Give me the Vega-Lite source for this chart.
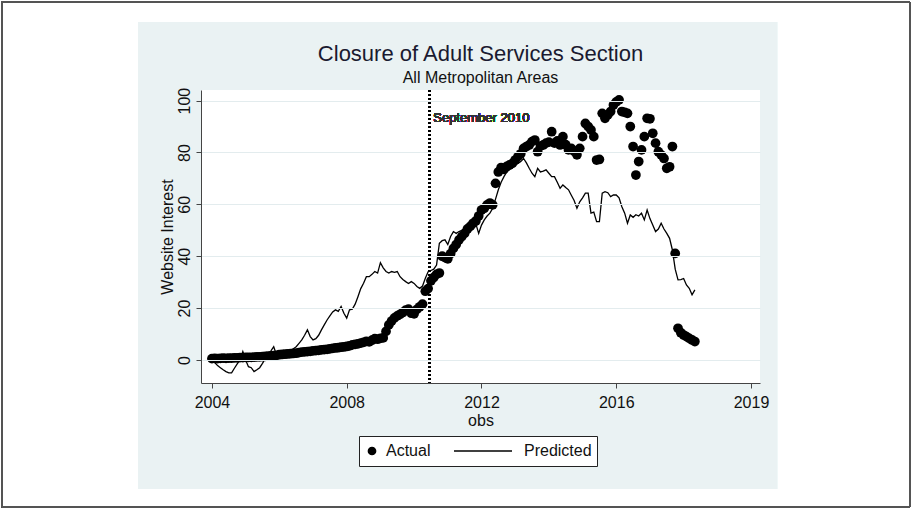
{
  "$schema": "https://vega.github.io/schema/vega-lite/v6.json",
  "width": 559,
  "height": 293,
  "autosize": {"type": "none"},
  "padding": {"left": 201, "top": 90, "right": 153, "bottom": 126},
  "background": "white",
  "title": {
    "text": "Closure of Adult Services Section",
    "subtitle": "All Metropolitan Areas",
    "anchor": "middle",
    "font": "Liberation Sans",
    "fontSize": 22,
    "fontWeight": "normal",
    "color": "#1a1a30",
    "subtitleFont": "Liberation Sans",
    "subtitleFontSize": 16,
    "subtitleColor": "#111111",
    "subtitlePadding": 4,
    "offset": -85
  },
  "data": {
    "values": [
      {"obs":0,"actual":0.5,"predicted":0.0},{"obs":1,"actual":0.6,"predicted":-1.0},{"obs":2,"actual":0.5,"predicted":-2.2},{"obs":3,"actual":0.6,"predicted":-3.0},{"obs":4,"actual":0.7,"predicted":-3.8},{"obs":5,"actual":0.6,"predicted":-4.5},{"obs":6,"actual":0.7,"predicted":-5.0},{"obs":7,"actual":0.7,"predicted":-5.0},{"obs":8,"actual":0.8,"predicted":-3.2},{"obs":9,"actual":0.8,"predicted":-1.5},
      {"obs":10,"actual":0.9,"predicted":0.0},{"obs":11,"actual":0.9,"predicted":3.2},{"obs":12,"actual":1.0,"predicted":0.0},{"obs":13,"actual":1.0,"predicted":-2.6},{"obs":14,"actual":1.0,"predicted":-3.0},{"obs":15,"actual":1.1,"predicted":-4.5},{"obs":16,"actual":1.2,"predicted":-3.8},{"obs":17,"actual":1.2,"predicted":-3.0},{"obs":18,"actual":1.3,"predicted":-1.3},{"obs":19,"actual":1.4,"predicted":0.5},
      {"obs":20,"actual":1.5,"predicted":2.0},{"obs":21,"actual":1.6,"predicted":3.5},{"obs":22,"actual":1.7,"predicted":5.1},{"obs":23,"actual":1.8,"predicted":1.9},{"obs":24,"actual":2.0,"predicted":1.9},{"obs":25,"actual":2.1,"predicted":2.0},{"obs":26,"actual":2.2,"predicted":2.2},{"obs":27,"actual":2.3,"predicted":2.6},{"obs":28,"actual":2.4,"predicted":3.5},{"obs":29,"actual":2.5,"predicted":4.3},
      {"obs":30,"actual":2.6,"predicted":5.1},{"obs":31,"actual":2.8,"predicted":6.4},{"obs":32,"actual":3.0,"predicted":7.7},{"obs":33,"actual":3.1,"predicted":9.5},{"obs":34,"actual":3.2,"predicted":11.6},{"obs":35,"actual":3.3,"predicted":9.0},{"obs":36,"actual":3.5,"predicted":7.7},{"obs":37,"actual":3.6,"predicted":8.2},{"obs":38,"actual":3.7,"predicted":9.5},{"obs":39,"actual":3.9,"predicted":11.6},
      {"obs":40,"actual":4.0,"predicted":13.5},{"obs":41,"actual":4.1,"predicted":15.4},{"obs":42,"actual":4.3,"predicted":17.0},{"obs":43,"actual":4.5,"predicted":18.5},{"obs":44,"actual":4.6,"predicted":19.3},{"obs":45,"actual":4.7,"predicted":18.7},{"obs":46,"actual":4.9,"predicted":20.6},{"obs":47,"actual":5.0,"predicted":18.0},{"obs":48,"actual":5.2,"predicted":16.1},{"obs":49,"actual":5.4,"predicted":19.3},
      {"obs":50,"actual":5.8,"predicted":19.6},{"obs":51,"actual":6.0,"predicted":21.5},{"obs":52,"actual":6.2,"predicted":24.4},{"obs":53,"actual":6.5,"predicted":27.5},{"obs":54,"actual":6.8,"predicted":29.6},{"obs":55,"actual":7.2,"predicted":32.1},{"obs":56,"actual":7.0,"predicted":32.1},{"obs":57,"actual":7.6,"predicted":33.0},{"obs":58,"actual":8.2,"predicted":34.1},{"obs":59,"actual":8.0,"predicted":33.5},
      {"obs":60,"actual":8.3,"predicted":37.5},{"obs":61,"actual":8.5,"predicted":35.5},{"obs":62,"actual":11.0,"predicted":34.1},{"obs":63,"actual":13.5,"predicted":33.5},{"obs":64,"actual":15.0,"predicted":34.1},{"obs":65,"actual":16.2,"predicted":33.8},{"obs":66,"actual":17.0,"predicted":34.1},{"obs":67,"actual":17.6,"predicted":32.1},{"obs":68,"actual":18.3,"predicted":31.0},{"obs":69,"actual":19.2,"predicted":30.2},
      {"obs":70,"actual":19.6,"predicted":29.5},{"obs":71,"actual":18.0,"predicted":30.2},{"obs":72,"actual":17.8,"predicted":29.5},{"obs":73,"actual":19.5,"predicted":28.3},{"obs":74,"actual":20.5,"predicted":27.6},{"obs":75,"actual":21.5,"predicted":28.5},{"obs":76,"actual":26.5,"predicted":31.5},{"obs":77,"actual":27.5,"predicted":34.0},{"obs":78,"actual":30.5,"predicted":34.5},{"obs":79,"actual":31.8,"predicted":35.0},
      {"obs":80,"actual":33.0,"predicted":36.6},{"obs":81,"actual":33.5,"predicted":45.0},{"obs":82,"actual":40.0,"predicted":46.0},{"obs":83,"actual":39.5,"predicted":46.3},{"obs":84,"actual":39.0,"predicted":44.5},{"obs":85,"actual":41.0,"predicted":47.6},{"obs":86,"actual":43.0,"predicted":49.5},{"obs":87,"actual":44.5,"predicted":48.8},{"obs":88,"actual":46.3,"predicted":49.5},{"obs":89,"actual":47.6,"predicted":50.0},
      {"obs":90,"actual":48.8,"predicted":50.8},{"obs":91,"actual":50.5,"predicted":51.5},{"obs":92,"actual":51.5,"predicted":52.0},{"obs":93,"actual":52.7,"predicted":53.3},{"obs":94,"actual":53.6,"predicted":52.5},{"obs":95,"actual":55.5,"predicted":48.8},{"obs":96,"actual":57.8,"predicted":52.0},{"obs":97,"actual":58.5,"predicted":54.0},{"obs":98,"actual":59.8,"predicted":55.5},{"obs":99,"actual":60.5,"predicted":56.6},
      {"obs":100,"actual":59.8,"predicted":58.5},{"obs":101,"actual":68.1,"predicted":62.0},{"obs":102,"actual":72.5,"predicted":65.6},{"obs":103,"actual":74.2,"predicted":68.5},{"obs":104,"actual":73.5,"predicted":70.7},{"obs":105,"actual":74.6,"predicted":72.5},{"obs":106,"actual":75.2,"predicted":73.5},{"obs":107,"actual":75.8,"predicted":74.5},{"obs":108,"actual":77.1,"predicted":75.2},{"obs":109,"actual":78.4,"predicted":75.8},
      {"obs":110,"actual":79.5,"predicted":76.5},{"obs":111,"actual":81.6,"predicted":77.7},{"obs":112,"actual":82.3,"predicted":76.0},{"obs":113,"actual":82.9,"predicted":73.9},{"obs":114,"actual":84.2,"predicted":72.0},{"obs":115,"actual":84.8,"predicted":70.7},{"obs":116,"actual":80.3,"predicted":73.9},{"obs":117,"actual":82.5,"predicted":72.5},{"obs":118,"actual":82.9,"predicted":72.8},{"obs":119,"actual":83.6,"predicted":73.3},
      {"obs":120,"actual":84.0,"predicted":72.0},{"obs":121,"actual":88.0,"predicted":70.7},{"obs":122,"actual":83.6,"predicted":70.7},{"obs":123,"actual":84.5,"predicted":68.5},{"obs":124,"actual":82.9,"predicted":66.2},{"obs":125,"actual":86.1,"predicted":67.5},{"obs":126,"actual":83.0,"predicted":66.5},{"obs":127,"actual":81.0,"predicted":65.6},{"obs":128,"actual":81.6,"predicted":63.5},{"obs":129,"actual":80.5,"predicted":61.5},
      {"obs":130,"actual":79.1,"predicted":58.5},{"obs":131,"actual":81.6,"predicted":61.0},{"obs":132,"actual":86.1,"predicted":62.5},{"obs":133,"actual":91.2,"predicted":64.3},{"obs":134,"actual":90.0,"predicted":64.3},{"obs":135,"actual":88.7,"predicted":56.6},{"obs":136,"actual":86.1,"predicted":57.0},{"obs":137,"actual":77.1,"predicted":53.3},{"obs":138,"actual":77.3,"predicted":53.3},{"obs":139,"actual":95.1,"predicted":64.3},
      {"obs":140,"actual":93.2,"predicted":64.9},{"obs":141,"actual":94.5,"predicted":64.5},{"obs":142,"actual":95.8,"predicted":63.0},{"obs":143,"actual":98.3,"predicted":63.6},{"obs":144,"actual":99.5,"predicted":63.6},{"obs":145,"actual":100.3,"predicted":62.5},{"obs":146,"actual":95.8,"predicted":59.1},{"obs":147,"actual":95.5,"predicted":56.6},{"obs":148,"actual":95.1,"predicted":52.7},{"obs":149,"actual":90.0,"predicted":55.9},
      {"obs":150,"actual":82.3,"predicted":55.0},{"obs":151,"actual":71.3,"predicted":56.0},{"obs":152,"actual":76.5,"predicted":55.5},{"obs":153,"actual":81.0,"predicted":56.6},{"obs":154,"actual":86.1,"predicted":54.0},{"obs":155,"actual":93.2,"predicted":57.8},{"obs":156,"actual":93.0,"predicted":54.5},{"obs":157,"actual":87.4,"predicted":52.0},{"obs":158,"actual":83.6,"predicted":49.5},{"obs":159,"actual":80.3,"predicted":50.5},
      {"obs":160,"actual":79.1,"predicted":52.7},{"obs":161,"actual":77.7,"predicted":50.5},{"obs":162,"actual":73.9,"predicted":48.8},{"obs":163,"actual":74.5,"predicted":46.9},{"obs":164,"actual":82.3,"predicted":42.4},{"obs":165,"actual":41.1,"predicted":35.0},{"obs":166,"actual":12.2,"predicted":30.9},{"obs":167,"actual":10.5,"predicted":31.0},{"obs":168,"actual":9.6,"predicted":31.4},{"obs":169,"actual":9.0,"predicted":28.9},
      {"obs":170,"actual":8.3,"predicted":27.6},{"obs":171,"actual":7.7,"predicted":25.1},{"obs":172,"actual":7.1,"predicted":27.0}
    ]
  },
  "encoding": {
    "x": {
      "field": "obs",
      "type": "quantitative",
      "title": "obs",
      "scale": {"domain": [-3.9, 195.2], "nice": false, "zero": false},
      "axis": {
        "values": [0, 48, 96, 144, 192],
        "labelExpr": "datum.value == 192 ? '2019' : toString(2004 + datum.value / 12)",
        "grid": false,
        "zindex": 1
      }
    }
  },
  "layer": [
    {
      "mark": {"type": "rect", "clip": false, "filled": false, "stroke": "#555555", "strokeWidth": 1},
      "encoding": {
        "x": {"datum": -74.8, "type": "quantitative"},
        "x2": {"datum": 248.6},
        "y": {"datum": -56.7, "type": "quantitative"},
        "y2": {"datum": 138.0}
      }
    },
    {
      "mark": {"type": "rect", "clip": false, "color": "#eaf2f3"},
      "encoding": {
        "x": {"datum": -26.3, "type": "quantitative"},
        "x2": {"datum": 201.3},
        "y": {"datum": -49.8, "type": "quantitative"},
        "y2": {"datum": 130.3}
      }
    },
    {
      "mark": {"type": "rect", "clip": false, "color": "#ffffff"},
      "encoding": {
        "x": {"datum": -3.9, "type": "quantitative"},
        "x2": {"datum": 195.2},
        "y": {"datum": -8.9, "type": "quantitative"},
        "y2": {"datum": 104.1}
      }
    },
    {
      "mark": {"type": "rule", "color": "#000000", "strokeWidth": 1.8, "strokeDash": [2, 2]},
      "encoding": {"x": {"datum": 77.4, "type": "quantitative"}}
    },
    {
      "mark": {"type": "text", "align": "left", "baseline": "middle", "dx": 4, "fontSize": 13, "font": "Liberation Sans", "color": "#333333"},
      "encoding": {
        "x": {"datum": 77.4, "type": "quantitative"},
        "y": {"datum": 93.3, "type": "quantitative"},
        "text": {"value": "September 2010"}
      }
    },
    {
      "mark": {"type": "line", "strokeWidth": 1.3},
      "encoding": {
        "y": {
          "field": "predicted",
          "type": "quantitative",
          "title": "Website Interest",
          "scale": {"domain": [-8.9, 104.1], "nice": false, "zero": false},
          "axis": {"values": [0, 20, 40, 60, 80, 100], "grid": true, "zindex": 1}
        },
        "color": {
          "datum": "Predicted",
          "type": "nominal",
          "scale": {"domain": ["Predicted"], "range": ["#000000"]},
          "legend": {
            "title": null,
            "orient": "none",
            "direction": "horizontal",
            "legendX": 252,
            "legendY": 353,
            "padding": 0,
            "clipHeight": 16,
            "symbolType": "stroke",
            "symbolSize": 3364,
            "symbolStrokeWidth": 1.4,
            "symbolStrokeColor": "#000000",
            "labelExpr": "''",
            "labelFontSize": 16,
            "zindex": 2
          }
        }
      }
    },
    {
      "mark": {"type": "point", "filled": true, "size": 95, "opacity": 1, "color": "#000000"},
      "encoding": {
        "y": {
          "field": "actual",
          "type": "quantitative",
          "title": "Website Interest",
          "scale": {"domain": [-8.9, 104.1], "nice": false, "zero": false},
          "axis": {"values": [0, 20, 40, 60, 80, 100], "grid": true, "zindex": 1}
        },
        "shape": {
          "datum": "Actual",
          "type": "nominal",
          "scale": {"domain": ["Actual", "Predicted"], "range": ["circle", "stroke"]},
          "legend": {
            "title": null,
            "orient": "none",
            "direction": "horizontal",
            "legendX": 158,
            "legendY": 346,
            "strokeColor": "#222222",
            "fillColor": "#ffffff",
            "padding": 5,
            "clipHeight": 20,
            "columnPadding": 67,
            "labelOffset": {"expr": "datum.value == 'Actual' ? 6 : 10"},
            "symbolOffset": 0,
            "symbolSize": 76,
            "symbolOpacity": 1,
            "labelFontSize": 16,
            "labelColor": "#111111",
            "labelFont": "Liberation Sans",
            "zindex": 1
          }
        }
      }
    }
  ],
  "config": {
    "font": "Liberation Sans",
    "view": {"stroke": null},
    "axis": {
      "domainColor": "#444444",
      "tickColor": "#444444",
      "labelColor": "#111111",
      "titleColor": "#111111",
      "labelFontSize": 16,
      "titleFontSize": 16,
      "titleFontWeight": "normal",
      "labelFont": "Liberation Sans",
      "titleFont": "Liberation Sans",
      "tickSize": 5,
      "domainWidth": 1,
      "tickWidth": 1
    },
    "axisY": {"gridColor": "#e3ecee", "gridWidth": 1, "labelAngle": 270, "labelPadding": 4, "titlePadding": 1},
    "axisX": {"labelPadding": 6, "titlePadding": 2}
  }
}
